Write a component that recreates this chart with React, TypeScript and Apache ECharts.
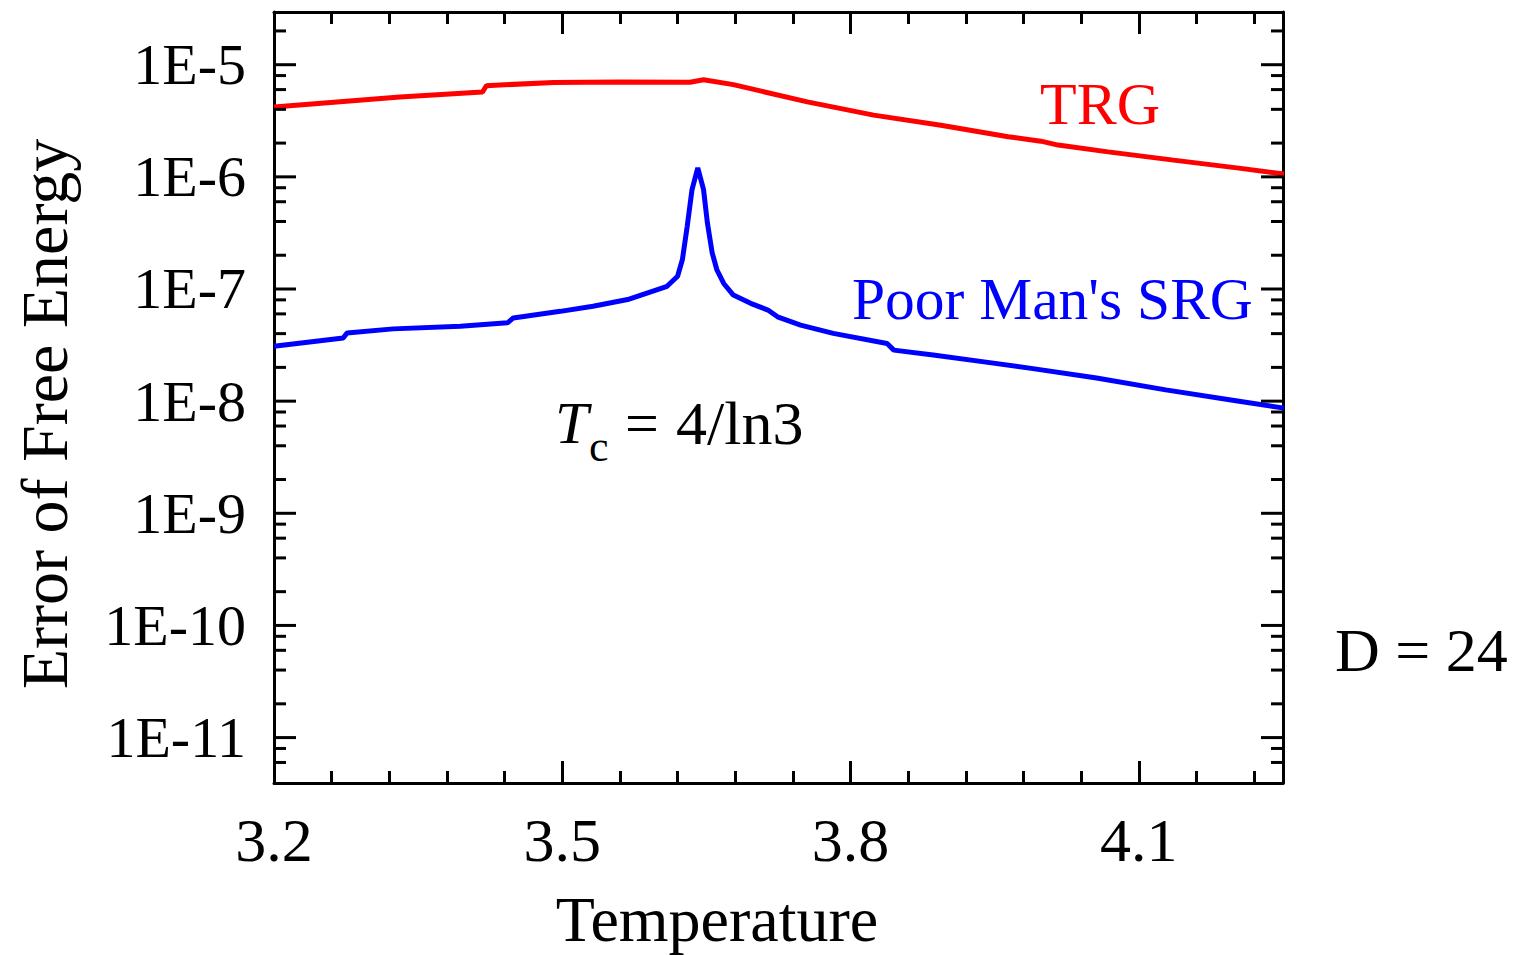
import React, { useEffect, useRef } from 'react';
import * as echarts from 'echarts';

// Axis ranges (x: temperature, y: log10 of the error)
const X_MIN = 3.2;
const X_MAX = 4.25;
const X_INTERVAL = 0.3;
const Y_MIN_EXP = -11.405;
const Y_MAX_EXP = -4.53;

// TRG error of free energy
const trgT = [3.2, 3.331, 3.417, 3.421, 3.435, 3.491, 3.56, 3.633, 3.647, 3.678, 3.755, 3.824, 3.894, 3.964, 3.998, 4.016, 4.068, 4.136, 4.206, 4.251];
const trgErr = [4.2e-6, 5.15e-6, 5.71e-6, 6.5e-6, 6.59e-6, 6.95e-6, 7.01e-6, 6.98e-6, 7.34e-6, 6.64e-6, 4.66e-6, 3.55e-6, 2.89e-6, 2.28e-6, 2.08e-6, 1.92e-6, 1.67e-6, 1.41e-6, 1.19e-6, 1.06e-6];

// Poor Man's SRG error of free energy
const pmsrgT = [3.2, 3.272, 3.276, 3.324, 3.394, 3.443, 3.449, 3.498, 3.532, 3.568, 3.599, 3.609, 3.62, 3.625, 3.63, 3.635, 3.641, 3.647, 3.651, 3.656, 3.661, 3.668, 3.678, 3.696, 3.714, 3.724, 3.748, 3.782, 3.838, 3.845, 3.886, 3.939, 3.988, 4.056, 4.128, 4.201, 4.251];
const pmsrgErr = [3.08e-8, 3.66e-8, 4.06e-8, 4.41e-8, 4.66e-8, 4.99e-8, 5.52e-8, 6.32e-8, 7.01e-8, 8.05e-8, 9.89e-8, 1.057e-7, 1.3e-7, 1.83e-7, 3.62e-7, 7.69e-7, 1.2e-6, 7.69e-7, 3.88e-7, 2.1e-7, 1.47e-7, 1.12e-7, 8.83e-8, 7.45e-8, 6.49e-8, 5.65e-8, 4.76e-8, 4.02e-8, 3.27e-8, 2.85e-8, 2.58e-8, 2.24e-8, 1.96e-8, 1.61e-8, 1.26e-8, 1.01e-8, 8.67e-9];

// Y axis ticks (decades) and labels
const yMajorExps = [-11, -10, -9, -8, -7, -6, -5];
const yTickLabels = ['1E-11', '1E-10', '1E-9', '1E-8', '1E-7', '1E-6', '1E-5'];
const yMinorMultipliers = [2, 4, 6, 8];

const FONT = '"Liberation Serif", "Times New Roman", serif';

type TickItem = { v: number; major: boolean; label: string };

function buildYTicks(): TickItem[] {
  const items: TickItem[] = [];
  const decades = [-12, ...yMajorExps];
  decades.forEach((e) => {
    const idx = yMajorExps.indexOf(e);
    if (idx >= 0 && e >= Y_MIN_EXP && e <= Y_MAX_EXP) {
      items.push({ v: e, major: true, label: yTickLabels[idx] });
    }
    yMinorMultipliers.forEach((m) => {
      const v = e + Math.log10(m);
      if (v > Y_MIN_EXP + 0.01 && v < Y_MAX_EXP - 0.01) items.push({ v, major: false, label: '' });
    });
  });
  return items;
}

function txt(text: string, x: number, y: number, font: string, fill: string, align = 'left', rotation = 0) {
  return {
    type: 'text',
    x,
    y,
    rotation,
    style: {
      text,
      fill,
      font,
      textAlign: align,
      textVerticalAlign: 'middle',
      align,
      verticalAlign: 'middle',
    },
  };
}

export default function App() {
  const ref = useRef<HTMLDivElement>(null);

  useEffect(() => {
    if (!ref.current) return;
    const chart = echarts.init(ref.current, undefined, { renderer: 'svg' });
    const yTicks = buildYTicks();

    const axisLineStyle = { color: '#000', width: 3 };

    const option: any = {
      animation: false,
      backgroundColor: '#fff',
      grid: {
        left: 274,
        right: 246,
        top: 12,
        bottom: 172,
        containLabel: false,
        outerBoundsMode: 'none',
      },
      xAxis: [
        {
          type: 'value',
          position: 'bottom',
          min: X_MIN,
          max: X_MAX,
          interval: X_INTERVAL,
          axisLine: { show: true, lineStyle: axisLineStyle },
          axisTick: { show: true, inside: true, length: 22, lineStyle: { color: '#000', width: 3 } },
          minorTick: { show: true, splitNumber: 5, length: 12, lineStyle: { color: '#000', width: 3 } },
          splitLine: { show: false },
          axisLabel: {
            show: true,
            margin: 26,
            color: '#000',
            fontSize: 62,
            fontFamily: FONT,
            showMaxLabel: false,
            formatter: (v: number) => v.toFixed(1),
          },
        },
        {
          type: 'value',
          position: 'top',
          min: X_MIN,
          max: X_MAX,
          interval: X_INTERVAL,
          axisLine: { show: true, lineStyle: axisLineStyle },
          axisTick: { show: true, inside: true, length: 22, lineStyle: { color: '#000', width: 3 } },
          minorTick: { show: true, splitNumber: 5, length: 12, lineStyle: { color: '#000', width: 3 } },
          splitLine: { show: false },
          axisLabel: { show: false },
        },
      ],
      yAxis: [
        {
          type: 'value',
          position: 'left',
          min: Y_MIN_EXP,
          max: Y_MAX_EXP,
          axisLine: { show: true, lineStyle: axisLineStyle },
          axisTick: { show: false },
          axisLabel: { show: false },
          splitLine: { show: false },
        },
        {
          type: 'value',
          position: 'right',
          min: Y_MIN_EXP,
          max: Y_MAX_EXP,
          axisLine: { show: true, lineStyle: axisLineStyle },
          axisTick: { show: false },
          axisLabel: { show: false },
          splitLine: { show: false },
        },
      ],
      series: [
        {
          name: 'TRG',
          type: 'line',
          xAxisIndex: 0,
          yAxisIndex: 0,
          showSymbol: false,
          symbol: 'none',
          lineStyle: { color: '#ff0000', width: 5 },
          data: trgT.map((t, i) => [t, Math.log10(trgErr[i])]),
          z: 3,
        },
        {
          name: "Poor Man's SRG",
          type: 'line',
          xAxisIndex: 0,
          yAxisIndex: 0,
          showSymbol: false,
          symbol: 'none',
          lineStyle: { color: '#0000ff', width: 5 },
          data: pmsrgT.map((t, i) => [t, Math.log10(pmsrgErr[i])]),
          z: 3,
        },
        {
          name: 'yTicks',
          type: 'custom',
          xAxisIndex: 0,
          yAxisIndex: 0,
          silent: true,
          clip: false,
          encode: { x: 0, y: 1 },
          data: yTicks.map((t) => [X_MIN, t.v]),
          renderItem: (params: any, api: any) => {
            const it = yTicks[params.dataIndex];
            const l = api.coord([X_MIN, it.v]);
            const r = api.coord([X_MAX, it.v]);
            const len = it.major ? 22 : 12;
            const children: any[] = [
              {
                type: 'line',
                shape: { x1: l[0], y1: l[1], x2: l[0] + len, y2: l[1] },
                style: { stroke: '#000', lineWidth: 3 },
              },
              {
                type: 'line',
                shape: { x1: r[0] - len, y1: r[1], x2: r[0], y2: r[1] },
                style: { stroke: '#000', lineWidth: 3 },
              },
            ];
            if (it.major) {
              children.push({
                type: 'text',
                x: l[0] - 28,
                y: l[1],
                style: {
                  text: it.label,
                  fill: '#000',
                  fontSize: 58,
                  fontFamily: FONT,
                  align: 'right',
                  verticalAlign: 'middle',
                },
              });
            }
            return { type: 'group', children };
          },
          z: 4,
        },
      ],
      graphic: [
        txt('Temperature', 717, 919, `64px ${FONT}`, '#000', 'center'),
        txt('Error of Free Energy', 44, 414, `66px ${FONT}`, '#000', 'center', Math.PI / 2),
        txt('TRG', 1040, 104, `60px ${FONT}`, '#ff0000'),
        txt("Poor Man's SRG", 852, 299, `59.5px ${FONT}`, '#0000ff'),
        txt('D = 24', 1335, 650, `62px ${FONT}`, '#000'),
        txt('T', 555, 423, `italic 60px ${FONT}`, '#000'),
        txt('c', 589, 446, `44px ${FONT}`, '#000'),
        txt('=', 625, 423, `60px ${FONT}`, '#000'),
        txt('4/ln3', 676, 423, `62px ${FONT}`, '#000'),
      ],
    };

    chart.setOption(option);
    return () => {
      chart.dispose();
    };
  }, []);

  return (
    <div
      ref={ref}
      style={{ position: 'fixed', left: 0, top: 0, width: 1529, height: 955, background: '#fff' }}
    />
  );
}
